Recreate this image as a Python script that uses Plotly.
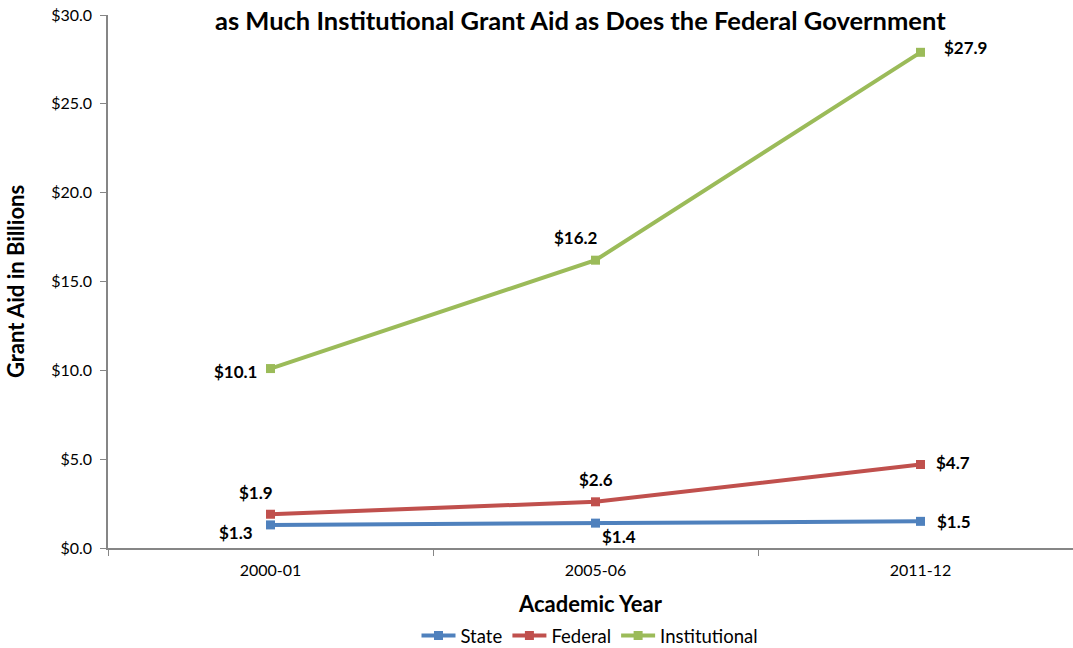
import plotly.graph_objects as go

years = ["2000-01", "2005-06", "2011-12"]
state = [1.3, 1.4, 1.5]
federal = [1.9, 2.6, 4.7]
institutional = [10.1, 16.2, 27.9]
y_ticks = [0, 5, 10, 15, 20, 25, 30]
y_tick_text = ["$0.0", "$5.0", "$10.0", "$15.0", "$20.0", "$25.0", "$30.0"]

FONT = "Lato"
L, R, T, B = 108, 0, 15, 100
W, H = 1073, 648

fig = go.Figure()
series = [("State", state, "#4F81BD"), ("Federal", federal, "#C0504D"),
          ("Institutional", institutional, "#9BBB59")]
for name, vals, col in series:
    fig.add_trace(go.Scatter(x=years, y=vals, name=name, mode="lines+markers",
                             line=dict(color=col, width=4),
                             marker=dict(symbol="square", size=9, color=col),
                             cliponaxis=False))

# label offsets (px) per series per point
offsets = {
    "State": [(-35, -8), (23, -13), (33, 0)],
    "Federal": [(-15, 22), (0, 22), (32, 2)],
    "Institutional": [(-35, -3), (-20, 23), (45, 5)],
}
for name, vals, col in series:
    for i, v in enumerate(vals):
        dx, dy = offsets[name][i]
        fig.add_annotation(x=years[i], y=v, text="<b>$%.1f</b>" % v, showarrow=False,
                           xshift=dx, yshift=dy, font=dict(family=FONT, size=17, color="black"))

fig.add_annotation(xref="paper", yref="paper", x=(580 - L) / (W - L), y=1 + (T - 20) / (H - T - B),
                   text="<b>as Much Institutional Grant Aid as Does the Federal Government</b>",
                   showarrow=False, yanchor="middle", font=dict(family=FONT, size=25.5, color="black"))

plot_w = W - L - R
span = plot_w / 325.0
fig.update_layout(
    width=W, height=H, margin=dict(l=L, r=R, t=T, b=B, pad=0, autoexpand=False),
    paper_bgcolor="white", plot_bgcolor="white",
    font=dict(family=FONT, size=16, color="black"),
    showlegend=True,
    legend=dict(orientation="h", x=(590 - L) / plot_w, xanchor="center", y=-(636 - 548) / (H - T - B),
                yanchor="middle", font=dict(family=FONT, size=18.5, color="black"),
                itemwidth=34, tracegroupgap=0),
    xaxis=dict(type="category", range=[-0.5, -0.5 + span], showgrid=False, zeroline=False,
               automargin=False,
               showline=True, linecolor="#868686", linewidth=1.5,
               ticks="outside", tickson="boundaries", ticklen=6, tickcolor="#868686",
               ticklabelstandoff=7,
               tickfont=dict(family=FONT, size=16, color="black"),
               title=dict(text="<b>Academic Year</b>", font=dict(family=FONT, size=22, color="black"), standoff=19)),
    yaxis=dict(range=[0, 30], tickvals=y_ticks, ticktext=y_tick_text, showgrid=False, zeroline=False,
               automargin=False,
               showline=True, linecolor="#868686", linewidth=1.5,
               ticks="outside", ticklen=6, tickcolor="#868686",
               ticklabelstandoff=5,
               tickfont=dict(family=FONT, size=16, color="black"),
               title=dict(text="<b>Grant Aid in Billions</b>", font=dict(family=FONT, size=22, color="black"), standoff=20)),
)
fig.write_html("out.html", config={"displayModeBar": False},
               post_script="document.body.style.margin='0';")
